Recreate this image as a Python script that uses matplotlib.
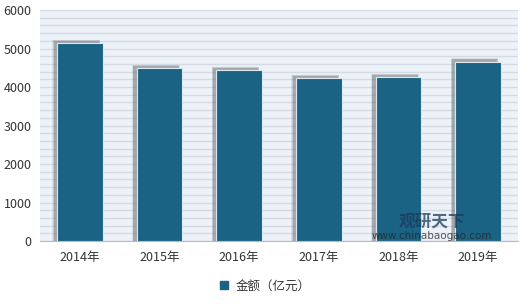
import numpy as np
import matplotlib.pyplot as plt
from matplotlib.patches import Patch

plt.rcParams['font.family'] = ['Noto Sans CJK SC', 'DejaVu Sans']

years = ['2014年', '2015年', '2016年', '2017年', '2018年', '2019年']
amount = [5140, 4490, 4440, 4230, 4260, 4660]
series_name = '金额（亿元）'

bar_color = '#1b6384'

fig = plt.figure(figsize=(5.2, 3.04), dpi=100)
ax = fig.add_axes([0.077, 0.207, 0.919, 0.76])
ax.set_facecolor('#edf2f8')

x = np.arange(len(years))
w = 0.57

# soft shadow behind bars (offset up-left)
vals = np.array(amount)
for grow, a in [(0.03, 0.12), (0.015, 0.18), (0.0, 0.3)]:
    ax.bar(x - 0.045, vals + 60 + grow * 1000, width=w + grow,
           color='#606060', alpha=a, zorder=2, linewidth=0)
ax.bar(x, amount, width=w, color=bar_color, edgecolor='#dce8f0',
       linewidth=0.8, zorder=3)

ax.set_xlim(-0.5, 5.5)
ax.set_ylim(0, 6000)
ax.set_yticks(range(0, 6001, 1000))
ax.set_yticks(range(0, 6001, 200), minor=True)
ax.yaxis.grid(True, which='both', color='#d3dbe5', linewidth=1.0, zorder=0)
ax.set_axisbelow(True)
ax.tick_params(axis='y', which='both', length=0, labelsize=9, colors='#333333', pad=6)
ax.set_xticks(x)
ax.set_xticklabels(years)
ax.tick_params(axis='x', length=0, labelsize=9, colors='#333333', pad=7)
for s in ['top', 'right', 'left']:
    ax.spines[s].set_visible(False)
ax.spines['bottom'].set_color('#bbbbbb')

fig.legend(handles=[Patch(color=bar_color, label=series_name)],
           loc='center', bbox_to_anchor=(0.51, 0.058), frameon=False,
           fontsize=9, handlelength=0.6, handleheight=0.6, handletextpad=0.6,
           labelcolor='#333333')

# watermark
fig.text(0.83, 0.255, '观研天下', fontsize=12, fontweight='bold',
         color='#1b3a5a', alpha=0.75, ha='center')
fig.text(0.83, 0.215, 'www.chinabaogao.com', fontsize=7.5,
         color='#222222', alpha=0.75, ha='center', family='DejaVu Sans')

fig.savefig('out.png', dpi=100)
